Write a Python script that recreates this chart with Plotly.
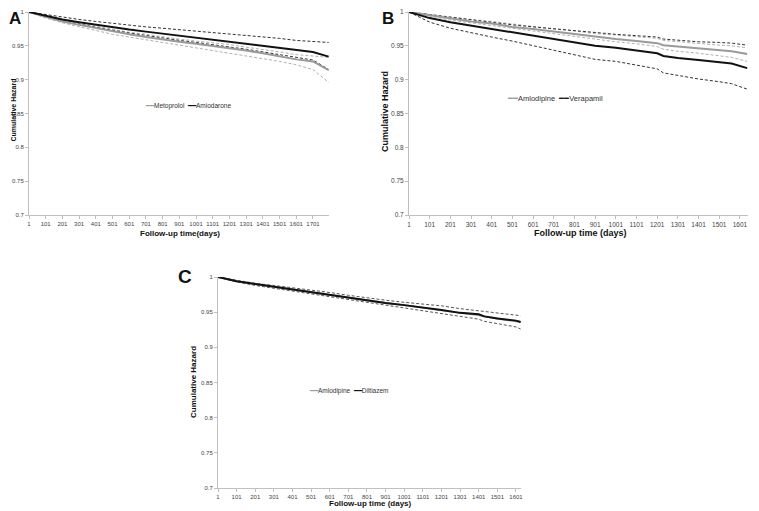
import plotly.graph_objects as go

# ---------------- Panel A: Metoprolol vs Amiodarone ----------------
a_days = [1, 101, 201, 301, 401, 501, 601, 701, 801, 901, 1001, 1101, 1201, 1301, 1401, 1501, 1601, 1701, 1795]
a_amio = [1, 0.994, 0.989, 0.985, 0.981, 0.977, 0.974, 0.971, 0.968, 0.965, 0.962, 0.960, 0.957, 0.954, 0.951, 0.948, 0.944, 0.941, 0.934]
a_amio_hi = [1, 0.996, 0.992, 0.989, 0.986, 0.983, 0.980, 0.978, 0.976, 0.974, 0.972, 0.970, 0.968, 0.966, 0.963, 0.961, 0.958, 0.956, 0.955]
a_amio_lo = [1, 0.993, 0.987, 0.982, 0.977, 0.973, 0.969, 0.965, 0.962, 0.958, 0.955, 0.952, 0.949, 0.945, 0.941, 0.937, 0.933, 0.929, 0.915]
a_meto = [1, 0.993, 0.986, 0.981, 0.976, 0.971, 0.967, 0.963, 0.959, 0.956, 0.953, 0.950, 0.947, 0.943, 0.939, 0.934, 0.930, 0.927, 0.914]
a_meto_hi = [1, 0.994, 0.988, 0.983, 0.979, 0.974, 0.970, 0.967, 0.963, 0.960, 0.957, 0.955, 0.952, 0.948, 0.945, 0.941, 0.937, 0.935, 0.933]
a_meto_lo = [1, 0.991, 0.984, 0.978, 0.972, 0.967, 0.963, 0.959, 0.955, 0.951, 0.948, 0.944, 0.940, 0.936, 0.932, 0.927, 0.922, 0.915, 0.896]

# ---------------- Panel B: Amlodipine vs Verapamil ----------------
b_days = [1, 101, 201, 301, 401, 501, 601, 701, 801, 901, 1001, 1101, 1201, 1231, 1301, 1401, 1501, 1561, 1636]
b_vera = [1, 0.991, 0.985, 0.980, 0.976, 0.970, 0.965, 0.960, 0.955, 0.950, 0.947, 0.943, 0.939, 0.935, 0.932, 0.929, 0.926, 0.924, 0.917]
b_vera_hi = [1, 0.996, 0.992, 0.988, 0.985, 0.981, 0.978, 0.975, 0.972, 0.969, 0.967, 0.965, 0.963, 0.960, 0.958, 0.956, 0.955, 0.954, 0.951]
b_vera_lo = [1, 0.985, 0.976, 0.969, 0.963, 0.957, 0.950, 0.943, 0.937, 0.930, 0.927, 0.922, 0.916, 0.910, 0.906, 0.901, 0.897, 0.894, 0.886]
b_amlo = [1, 0.995, 0.990, 0.986, 0.983, 0.978, 0.975, 0.971, 0.967, 0.963, 0.960, 0.957, 0.954, 0.951, 0.949, 0.946, 0.943, 0.942, 0.938]
b_amlo_hi = [1, 0.996, 0.992, 0.989, 0.986, 0.982, 0.979, 0.975, 0.972, 0.968, 0.966, 0.963, 0.961, 0.958, 0.956, 0.953, 0.951, 0.950, 0.947]
b_amlo_lo = [1, 0.994, 0.988, 0.984, 0.980, 0.975, 0.971, 0.967, 0.963, 0.959, 0.956, 0.953, 0.949, 0.945, 0.942, 0.939, 0.935, 0.933, 0.927]

# ---------------- Panel C: Amlodipine vs Diltiazem ----------------
c_days = [1, 101, 201, 301, 401, 501, 601, 701, 801, 901, 1001, 1101, 1201, 1301, 1401, 1431, 1501, 1601, 1626]
c_dilt = [1, 0.994, 0.990, 0.986, 0.982, 0.978, 0.975, 0.971, 0.967, 0.963, 0.960, 0.957, 0.953, 0.949, 0.947, 0.944, 0.941, 0.938, 0.936]
c_dilt_hi = [1, 0.995, 0.991, 0.988, 0.985, 0.981, 0.978, 0.974, 0.970, 0.967, 0.964, 0.962, 0.959, 0.955, 0.952, 0.951, 0.949, 0.946, 0.945]
c_dilt_lo = [1, 0.993, 0.988, 0.984, 0.980, 0.975, 0.971, 0.967, 0.963, 0.959, 0.956, 0.952, 0.948, 0.944, 0.940, 0.937, 0.934, 0.929, 0.926]
c_amlo = [1, 0.994, 0.990, 0.986, 0.982, 0.978, 0.974, 0.970, 0.966, 0.963, 0.960, 0.956, 0.952, 0.949, 0.946, 0.944, 0.941, 0.937, 0.936]

x_ticks_a = list(range(1, 1702, 100))
x_ticks_bc = list(range(1, 1602, 100))
y_ticks = [0.7, 0.75, 0.8, 0.85, 0.9, 0.95, 1.0]
y_tick_text = ["0.7", "0.75", "0.8", "0.85", "0.9", "0.95", "1"]

# page body has an 8px margin, so the figure is drawn 8px in from the window corner
OFF = 8
W, H = 759 - OFF, 511 - OFF
FONT = "Liberation Sans, Arial, sans-serif"
GRAY = "#9a9a9a"
GRAY_D = "#b0b0b0"
BLACK = "#111111"
BLACK_D = "#333333"
DASH = "3px,2px"

fig = go.Figure()


def add_line(x, y, xa, ya, color, width, dash, name=""):
    fig.add_trace(go.Scatter(
        x=x, y=y, mode="lines", xaxis=xa, yaxis=ya, name=name,
        line=dict(color=color, width=width, dash=dash),
        showlegend=False, hoverinfo="skip"))


# Panel A
add_line(a_days, a_meto_hi, "x", "y", GRAY_D, 1, DASH)
add_line(a_days, a_meto_lo, "x", "y", GRAY_D, 1, DASH)
add_line(a_days, a_amio_hi, "x", "y", BLACK_D, 1, DASH)
add_line(a_days, a_amio_lo, "x", "y", BLACK_D, 1, DASH)
add_line(a_days, a_meto, "x", "y", GRAY, 2, "solid", "Metoprolol")
add_line(a_days, a_amio, "x", "y", BLACK, 2, "solid", "Amiodarone")

# Panel B
add_line(b_days, b_amlo_hi, "x2", "y2", GRAY_D, 1, DASH)
add_line(b_days, b_amlo_lo, "x2", "y2", GRAY_D, 1, DASH)
add_line(b_days, b_vera_hi, "x2", "y2", BLACK_D, 1, DASH)
add_line(b_days, b_vera_lo, "x2", "y2", BLACK_D, 1, DASH)
add_line(b_days, b_amlo, "x2", "y2", GRAY, 2, "solid", "Amlodipine")
add_line(b_days, b_vera, "x2", "y2", BLACK, 2, "solid", "Verapamil")

# Panel C
add_line(c_days, c_dilt_hi, "x3", "y3", "#555555", 1, DASH)
add_line(c_days, c_dilt_lo, "x3", "y3", "#555555", 1, DASH)
add_line(c_days, c_amlo, "x3", "y3", GRAY, 2, "solid", "Amlodipine")
add_line(c_days, c_dilt, "x3", "y3", BLACK, 2, "solid", "Diltiazem")


def px_x(p):
    return min(1.0, max(0.0, (p - OFF) / W))


def px_y(p):
    return min(1.0, max(0.0, 1 - (p - OFF) / H))


def axis(size):
    return dict(showgrid=False, zeroline=False, showline=True, linecolor="#c0c0c0",
                linewidth=1, ticks="outside", ticklen=3, tickcolor="#c0c0c0",
                tickangle=0, ticklabeloverflow="allow",
                tickfont=dict(family=FONT, size=size, color="#444444"), automargin=False)


fig.update_layout(
    width=W, height=H, margin=dict(l=0, r=0, t=0, b=0),
    paper_bgcolor="white", plot_bgcolor="white",
    font=dict(family=FONT, color="#222222"),
    showlegend=False,
    xaxis=dict(domain=[px_x(29), px_x(329)], range=[1, 1797], tickvals=x_ticks_a,
               anchor="y", **axis(6)),
    yaxis=dict(domain=[px_y(215), px_y(12)], range=[0.7, 1.0], tickvals=y_ticks,
               ticktext=y_tick_text, anchor="x", **axis(6)),
    xaxis2=dict(domain=[px_x(409), px_x(748)], range=[1, 1640], tickvals=x_ticks_bc,
                anchor="y2", **axis(6.5)),
    yaxis2=dict(domain=[px_y(215), px_y(12)], range=[0.7, 1.0], tickvals=y_ticks,
                ticktext=y_tick_text, anchor="x2", **axis(6.5)),
    xaxis3=dict(domain=[px_x(218), px_x(521)], range=[1, 1628], tickvals=x_ticks_bc,
                anchor="y3", **axis(6)),
    yaxis3=dict(domain=[px_y(488), px_y(277)], range=[0.7, 1.0], tickvals=y_ticks,
                ticktext=y_tick_text, anchor="x3", **axis(6)),
)


def legend_text(items):
    parts = []
    for name, color in items:
        parts.append(f"<span style='color:{color}'>━━</span>{name}")
    return "  ".join(parts)


annos = [
    dict(text="<b>A</b>", x=px_x(15), y=px_y(18), size=17),
    dict(text="<b>B</b>", x=px_x(388), y=px_y(18), size=17),
    dict(text="<b>C</b>", x=px_x(185), y=px_y(276), size=19),
    dict(text="<b>Follow-up time(days)</b>", x=px_x(180), y=px_y(234), size=8),
    dict(text="<b>Follow-up time (days)</b>", x=px_x(580), y=px_y(233), size=9),
    dict(text="<b>Follow-up time (days)</b>", x=px_x(370), y=px_y(503), size=8),
    dict(text="<b>Cumulative Hazard</b>", x=px_x(12.5), y=px_y(110), size=7, angle=-90),
    dict(text="<b>Cumulative Hazard</b>", x=px_x(385), y=px_y(112), size=9, angle=-90),
    dict(text="<b>Cumulative Hazard</b>", x=px_x(193), y=px_y(382), size=8, angle=-90),
    dict(text=legend_text([("Metoprolol", GRAY), ("Amiodarone", BLACK)]),
         x=px_x(188), y=px_y(106), size=6.5, color="#333333"),
    dict(text=legend_text([("Amlodipine", GRAY), ("Verapamil", BLACK)]),
         x=px_x(555), y=px_y(99), size=7.5, color="#333333"),
    dict(text=legend_text([("Amlodipine", GRAY), ("Diltiazem", BLACK)]),
         x=px_x(349), y=px_y(391), size=6.5, color="#333333"),
]
for a in annos:
    fig.add_annotation(text=a["text"], x=a["x"], y=a["y"], xref="paper", yref="paper",
                       xanchor="center", yanchor="middle", showarrow=False,
                       textangle=a.get("angle", 0),
                       font=dict(family=FONT, size=a["size"], color=a.get("color", "#111111")))

fig.write_html("out.html")
